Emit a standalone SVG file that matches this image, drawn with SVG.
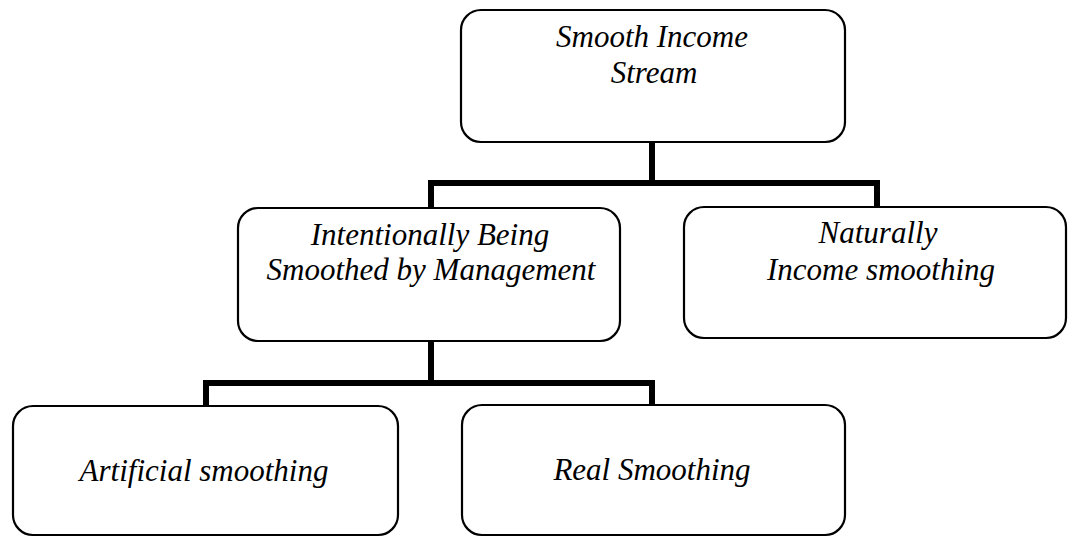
<svg xmlns="http://www.w3.org/2000/svg" width="1068" height="537" viewBox="0 0 1068 537">
<style>
.box{fill:#fff;stroke:#000;stroke-width:2.2}
.t{font-family:"Liberation Serif","Times New Roman",serif;font-style:italic;font-size:31px;fill:#000;text-anchor:middle}
.c{fill:none;stroke:#000;stroke-width:6;stroke-linejoin:miter;stroke-linecap:square}
</style>
<rect width="1068" height="537" fill="#fff"/>
<g id="connectors">
<path class="c" d="M652,142 V183 M431,207 V183 H877 V207"/>
<path class="c" d="M431,341 V383 M206,406 V383 H652 V406"/>
</g>
<g id="smooth-income-stream">
<rect class="box" x="461" y="10" width="384" height="132" rx="20"/>
<text class="t" x="652" y="47">Smooth Income</text>
<text class="t" x="654" y="83">Stream</text>
</g>
<g id="intentionally">
<rect class="box" x="238" y="208" width="382" height="133" rx="20"/>
<text class="t" x="430" y="245">Intentionally Being</text>
<text class="t" x="431" y="280">Smoothed by Management</text>
</g>
<g id="naturally">
<rect class="box" x="684" y="207" width="382" height="131" rx="20"/>
<text class="t" x="878" y="243">Naturally</text>
<text class="t" x="881" y="280">Income smoothing</text>
</g>
<g id="artificial">
<rect class="box" x="13" y="406" width="385" height="129" rx="20"/>
<text class="t" x="204" y="481">Artificial smoothing</text>
</g>
<g id="real">
<rect class="box" x="462" y="405" width="383" height="130" rx="20"/>
<text class="t" x="652" y="480">Real Smoothing</text>
</g>
</svg>
